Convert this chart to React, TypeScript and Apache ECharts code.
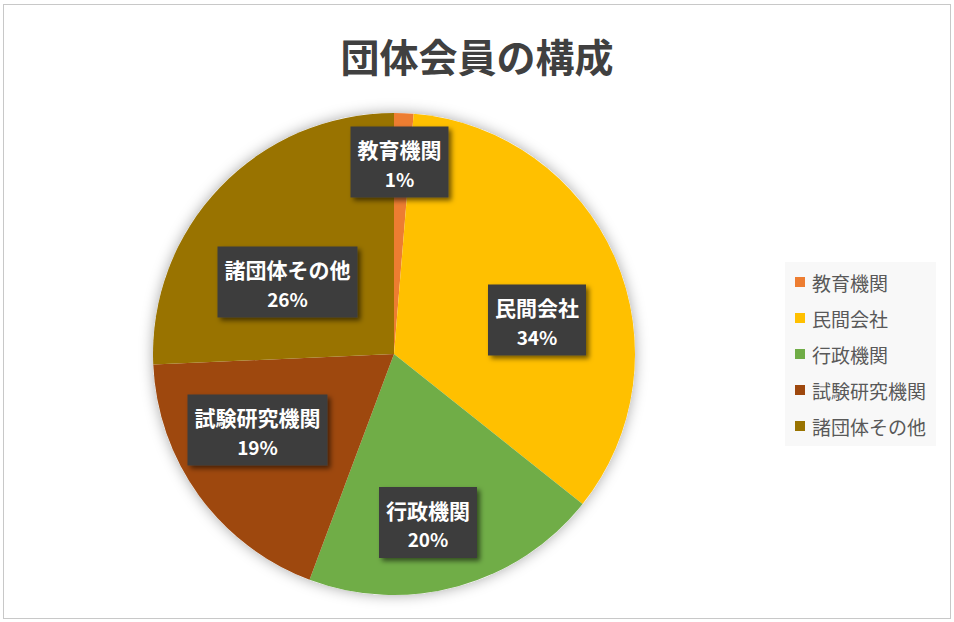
import React, { useEffect, useRef } from "react";
import * as echarts from "echarts";

const TITLE = "団体会員の構成";
const categories = ["教育機関", "民間会社", "行政機関", "試験研究機関", "諸団体その他"];
const values = [1.3, 34.4, 20.0, 18.6, 25.7];
const colors = ["#ED7D31", "#FFC000", "#70AD47", "#9E480E", "#997300"];
// label box centres (px)
const labelPos: [number, number][] = [
  [399.5, 162],
  [537, 320],
  [428, 522.5],
  [257.5, 430],
  [287.5, 282],
];

const FONT = "'Noto Sans CJK JP', 'Noto Sans', sans-serif";

export default function App() {
  const ref = useRef<HTMLDivElement>(null);
  useEffect(() => {
    document.body.style.margin = "0";
    if (!ref.current) return;
    const chart = echarts.init(ref.current, undefined, { renderer: "svg" });
    const total = values.reduce((a, b) => a + b, 0);
    chart.setOption({
      animation: false,
      backgroundColor: "#ffffff",
      title: {
        text: TITLE,
        left: "center",
        top: 30,
        textStyle: { fontFamily: FONT, fontSize: 39, fontWeight: "bold", color: "#404040" },
      },
      legend: {
        orient: "vertical",
        left: 785,
        top: 262,
        padding: [10, 10, 10, 10],
        backgroundColor: "#f8f8f8",
        itemWidth: 10,
        itemHeight: 10,
        itemGap: 16,
        icon: "rect",
        data: categories,
        textStyle: { fontFamily: FONT, fontSize: 19, color: "#595959", lineHeight: 20, padding: [0, 0, 0, 2] },
      },
      series: [
        {
          type: "pie",
          silent: true,
          center: [394, 354],
          radius: 241,
          z: 1,
          label: { show: false },
          labelLine: { show: false },
          itemStyle: { color: "#ffffff", shadowBlur: 14, shadowColor: "rgba(0,0,0,0.35)" },
          data: [{ name: "", value: total }],
          legendHoverLink: false,
        },
        {
          type: "pie",
          center: [394, 354],
          radius: 241,
          startAngle: 90,
          clockwise: true,
          z: 2,
          itemStyle: { borderWidth: 0 },
          data: categories.map((c, i) => ({ name: c, value: values[i], itemStyle: { color: colors[i] } })),
          label: {
            show: true,
            position: "inside",
            align: "center",
            verticalAlign: "middle",
            formatter: (p: any) => `{n|${p.name}}\n{v|${Math.round(p.percent)}%}`,
            backgroundColor: "#3d3d3d",
            padding: [8, 7, 5, 7],
            shadowColor: "rgba(0,0,0,0.55)",
            shadowBlur: 5,
            shadowOffsetX: 3,
            shadowOffsetY: 3,
            rich: {
              n: { fontFamily: FONT, fontSize: 21, fontWeight: "bold", color: "#ffffff", lineHeight: 29, align: "center" },
              v: { fontFamily: FONT, fontSize: 19, fontWeight: "bold", color: "#ffffff", lineHeight: 29, align: "center" },
            },
          },
          labelLine: { show: false },
          labelLayout: (params: any) => {
            const pos = labelPos[params.dataIndex];
            return { x: pos[0], y: pos[1] };
          },
        },
      ],
    });
    return () => chart.dispose();
  }, []);
  return (
    <div style={{ position: "relative", width: 954, height: 622 }}>
      <div ref={ref} style={{ position: "absolute", left: 0, top: 0, width: 954, height: 622 }} />
      <div
        style={{
          position: "absolute",
          left: 3,
          top: 4,
          width: 946,
          height: 613,
          border: "1.5px solid #c8c8c8",
          pointerEvents: "none",
        }}
      />
    </div>
  );
}
